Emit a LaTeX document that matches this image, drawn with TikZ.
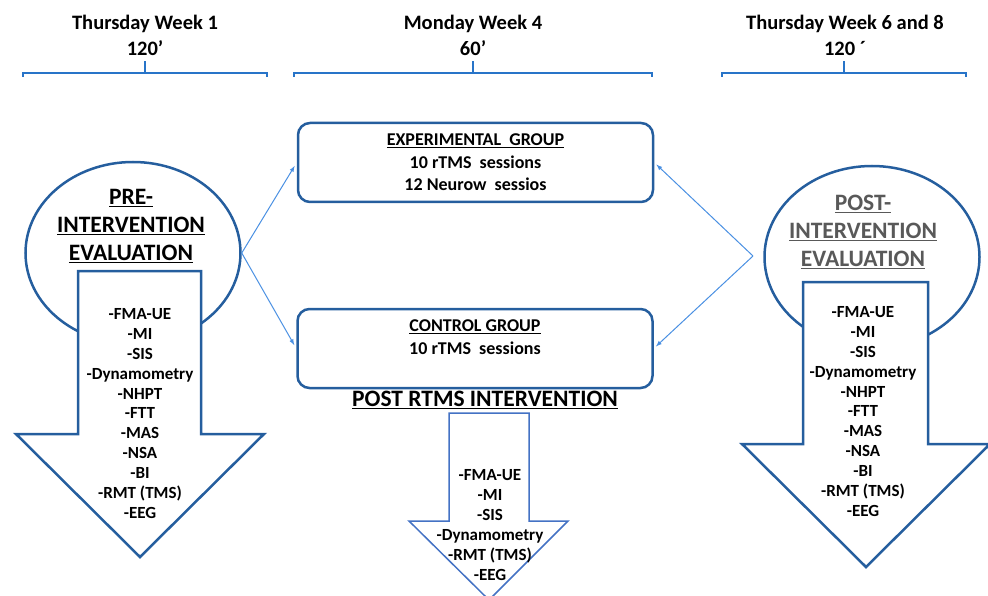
\documentclass[tikz,border=0pt]{standalone}
\usepackage{fontspec}
\setmainfont{Carlito}
\usetikzlibrary{shapes.geometric,arrows}
\definecolor{boxblue}{RGB}{37,94,158}
\definecolor{brblue}{RGB}{40,116,200}
\definecolor{linkblue}{RGB}{74,144,226}
\definecolor{midblue}{RGB}{68,114,196}
\definecolor{titlegray}{RGB}{89,89,89}
\newcommand{\ul}[1]{\underline{#1}}

\begin{document}
\begin{tikzpicture}[x=1pt,y=-1pt,
  every node/.style={align=center,inner sep=0pt},
  head/.style={font=\bfseries\fontsize{20.5}{26}\selectfont},
  bracket/.style={draw=brblue,line width=2pt},
  oval/.style={draw=boxblue,line width=2.5pt,ellipse,minimum width=215,minimum height=182},
  bigarrow/.style={draw=boxblue,line width=2.5pt,fill=white},
  grp/.style={draw=boxblue,line width=2.5pt,rounded corners=12pt,minimum width=355,minimum height=79,
    font=\bfseries\fontsize{18}{22.5}\selectfont},
  title/.style={font=\bfseries\fontsize{23.5}{28}\selectfont},
  list/.style={font=\bfseries\fontsize{17}{19.9}\selectfont},
  link/.style={draw=linkblue,line width=1pt,-latex}]
\useasboundingbox (0,0) rectangle (988,596);

\node[head] (h1) at (145,35) {Thursday Week 1\\120’};
\node[head] (h2) at (473,35) {Monday Week 4\\60’};
\node[head] (h3) at (845,35) {Thursday Week 6 and 8\\120 ´};

\draw[bracket] (23,77) -- (23,73) -- (267,73) -- (267,77) (145,73) -- (145,61);
\draw[bracket] (294,77) -- (294,73) -- (652,73) -- (652,77) (473,73) -- (473,61);
\draw[bracket] (722,77) -- (722,73) -- (966,73) -- (966,77) (844,73) -- (844,61);

\node[oval] (pre) at (133,253) {};
\draw[bigarrow] (78,271) -- (201,271) -- (201,434) -- (264,434) -- (140,557) -- (16,434) -- (78,434) -- cycle;
\node[title] (pret) at (131,226) {\ul{PRE-}\\\ul{INTERVENTION}\\\ul{EVALUATION}};
\node[list] (prel) at (140,413.5) {-FMA-UE\\-MI\\-SIS\\-Dynamometry\\-NHPT\\-FTT\\-MAS\\-NSA\\-BI\\-RMT (TMS)\\-EEG};

\node[oval] (post) at (872,257) {};
\draw[bigarrow] (803,282) -- (928,282) -- (928,444) -- (990,444) -- (866,567) -- (742,444) -- (803,444) -- cycle;
\node[title,text=titlegray] (postt) at (863,232) {\ul{POST-}\\\ul{INTERVENTION}\\\ul{EVALUATION}};
\node[list] (postl) at (863,411.5) {-FMA-UE\\-MI\\-SIS\\-Dynamometry\\-NHPT\\-FTT\\-MAS\\-NSA\\-BI\\-RMT (TMS)\\-EEG};

\node[grp] (exp) at (475.5,162.5) {\ul{EXPERIMENTAL\ \ GROUP}\\10 rTMS\ \ sessions\\12 Neurow\ \ sessios};
\node[grp] (ctrl) at (475,348.5) {\ul{CONTROL GROUP}\\10 rTMS\ \ sessions\\\mbox{}};

\node[title] (mid) at (485,400) {\ul{POST RTMS INTERVENTION}};
\draw[draw=midblue,line width=1.5pt,fill=white] (449,413) -- (529,413) -- (529,521) -- (568,521) -- (489,600) -- (409,521) -- (449,521) -- cycle;
\node[list] (midl) at (490,525) {-FMA-UE\\-MI\\-SIS\\-Dynamometry\\-RMT (TMS)\\-EEG};

\coordinate (back) at (753,256);
\draw[link,shorten >=4pt] (pre.east) -- (exp.west);
\draw[link,shorten >=4pt] (pre.east) -- (ctrl.west);
\draw[link,shorten >=3pt] (back) -- (exp.east);
\draw[link,shorten >=3pt] (back) -- (ctrl.east);
\end{tikzpicture}
\end{document}
